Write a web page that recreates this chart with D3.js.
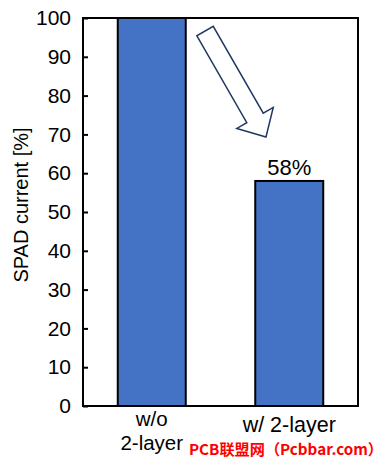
<!DOCTYPE html>
<html>
<head>
<meta charset="utf-8">
<script src="https://cdn.jsdelivr.net/npm/d3@7"></script>
<style>
  body { margin: 0; background: #fff; }
  svg { display: block; font-family: Arial, "Liberation Sans", sans-serif; }
</style>
</head>
<body>
<svg></svg>
<script>
const categories = ['w/o|2-layer', 'w/ 2-layer'];
const values = [100, 58];
const yTicks = [0, 10, 20, 30, 40, 50, 60, 70, 80, 90, 100];
const barLabels = ['', '58%'];

const width = 388;
const height = 462;
const margin = { top: 18, right: 30, bottom: 56, left: 83 };

const svg = d3.select('svg')
  .attr('width', width)
  .attr('height', height);

const xPoint = d3.scalePoint()
  .domain(categories)
  .range([margin.left, width - margin.right])
  .padding(0.5);
const barWidth = 68;

const yScale = d3.scaleLinear()
  .domain([0, 100])
  .range([height - margin.bottom, margin.top]);

// plot frame
svg.append('rect')
  .attr('x', margin.left)
  .attr('y', margin.top)
  .attr('width', width - margin.right - margin.left)
  .attr('height', height - margin.bottom - margin.top)
  .attr('fill', 'none')
  .attr('stroke', '#000')
  .attr('stroke-width', 2);

svg.selectAll('.bar')
  .data(values)
  .enter().append('rect')
  .attr('class', 'bar')
  .attr('x', (d, i) => xPoint(categories[i]) - barWidth / 2)
  .attr('y', d => yScale(d))
  .attr('width', barWidth)
  .attr('height', d => yScale(0) - yScale(d))
  .attr('fill', '#4472c4')
  .attr('stroke', '#000')
  .attr('stroke-width', 2);

const yAxis = d3.axisLeft(yScale)
  .tickValues(yTicks)
  .tickSizeInner(-5)
  .tickSizeOuter(0)
  .tickPadding(12);

const gy = svg.append('g')
  .attr('transform', `translate(${margin.left},0)`)
  .call(yAxis);
gy.select('.domain').remove();
gy.selectAll('line').attr('stroke', '#000').attr('stroke-width', 2);
gy.selectAll('text').attr('font-size', 21).attr('fill', '#000')
  .attr('font-family', 'Arial, "Liberation Sans", sans-serif');

// y axis title
svg.append('text')
  .attr('transform', `translate(28,${(margin.top + height - margin.bottom) / 2 - 7}) rotate(-90)`)
  .attr('text-anchor', 'middle')
  .attr('font-size', 20)
  .text('SPAD current [%]');

// x category labels
categories.forEach(c => {
  const lines = c.split('|');
  const t = svg.append('text')
    .attr('text-anchor', 'middle')
    .attr('font-size', lines.length > 1 ? 20.5 : 21.5)
    .attr('x', xPoint(c));
  lines.forEach((l, j) => {
    t.append('tspan')
      .attr('x', xPoint(c))
      .attr('y', (lines.length > 1 ? 426 : 432) + j * 23.5)
      .text(l);
  });
});

// value labels
svg.selectAll('.val')
  .data(values)
  .enter().append('text')
  .attr('class', 'val')
  .attr('x', (d, i) => xPoint(categories[i]))
  .attr('y', d => yScale(d) - 6)
  .attr('text-anchor', 'middle')
  .attr('font-size', 22)
  .text((d, i) => barLabels[i]);

// hollow arrow from first bar to second
const tail = [205, 31];
const tip = [266, 137];
const dx = tip[0] - tail[0], dy = tip[1] - tail[1];
const len = Math.hypot(dx, dy);
const ux = dx / len, uy = dy / len;
const nx = -uy, ny = ux;
const shaftW = 19, headW = 42, headL = 22;
const bx = tip[0] - ux * headL, by = tip[1] - uy * headL;
const pts = [
  [tail[0] + nx * shaftW / 2, tail[1] + ny * shaftW / 2],
  [bx + nx * shaftW / 2, by + ny * shaftW / 2],
  [bx + nx * headW / 2, by + ny * headW / 2],
  tip,
  [bx - nx * headW / 2, by - ny * headW / 2],
  [bx - nx * shaftW / 2, by - ny * shaftW / 2],
  [tail[0] - nx * shaftW / 2, tail[1] - ny * shaftW / 2]
];
svg.append('path')
  .attr('d', d3.line()(pts) + 'Z')
  .attr('fill', '#fff')
  .attr('stroke', '#1f3864')
  .attr('stroke-width', 1.5);

// watermark
svg.append('text')
  .attr('x', 189)
  .attr('y', 455)
  .attr('font-size', 15)
  .attr('font-weight', 'bold')
  .attr('fill', '#ff0000')
  .attr('textLength', 194)
  .attr('lengthAdjust', 'spacingAndGlyphs')
  .attr('font-family', '"Noto Sans CJK SC", "DejaVu Sans Mono", monospace')
  .text('PCB联盟网（Pcbbar.com）');
</script>
</body>
</html>
